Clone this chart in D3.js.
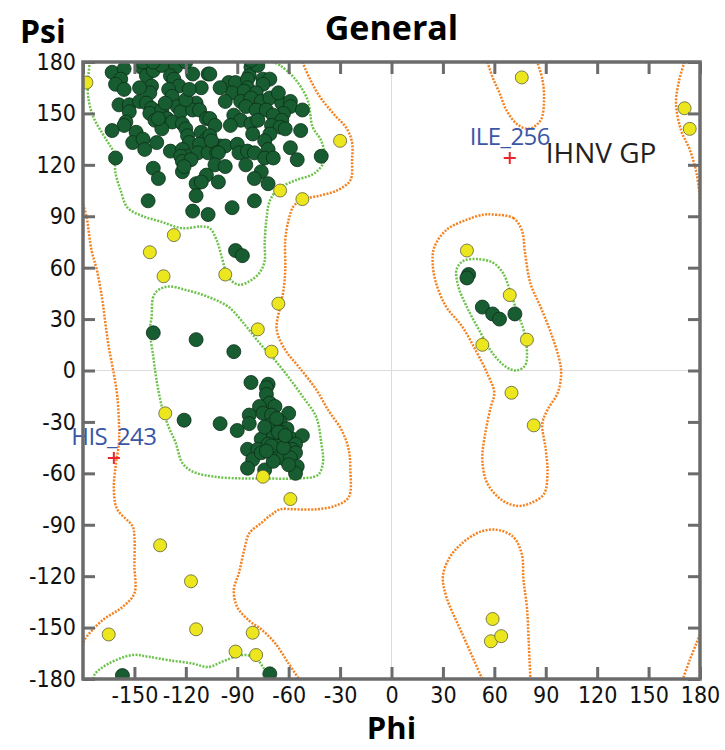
<!DOCTYPE html>
<html>
<head>
<meta charset="utf-8">
<script src="https://cdn.jsdelivr.net/npm/d3@7"></script>
<style>
  body { margin: 0; background: #fff; }
  svg text { font-family: "Liberation Sans Narrow", "DejaVu Sans Condensed", "Liberation Sans", sans-serif; }
</style>
</head>
<body>
<div id="chart"></div>
<script>
// residues in favoured regions (phi, psi)
const favoured = [
  [-163,174],[-156,176],[-158,170],[-161,167],[-156,164],[-146,177],[-143,172],[-139,175],[-134,178],[-126,177],
  [-129,172],[-127,170],[-124,166],[-116,173],[-111,165],[-107,173],[-140,166],[-141,162],[-130,164],[-128,160],
  [-159,155],[-153,155],[-153,151],[-147,157],[-143,156],[-140,153],[-141,150],[-134,152],[-125,154],[-123,151],
  [-131,147],[-128,145],[-114,156],[-116,152],[-112,152],[-108,147],[-138,146],[-155,145],[-156,143],[-163,140],
  [-149,139],[-151,133],[-145,135],[-144,129],[-137,133],[-134,141],[-122,144],[-120,141],[-119,137],[-118,133],
  [-111,139],[-108,135],[-112,132],[-129,128],[-122,129],[-161,124],[-119,125],[-113,127],[-107,127],
  [-106,173],[-95,168],[-91,168],[-93,162],[-82,177],[-83,172],[-84,170],[-75,170],[-71,170],[-75,167],
  [-84,165],[-86,163],[-79,162],[-88,157],[-82,159],[-76,157],[-71,159],[-85,154],[-79,152],[-73,152],
  [-64,156],[-59,157],[-59,154],[-63,150],[-52,152],[-92,149],[-88,146],[-94,143],[-106,147],[-103,143],
  [-82,144],[-78,146],[-69,149],[-64,146],[-70,143],[-65,142],[-62,141],[-71,138],[-81,138],[-53,140],
  [-74,134],[-106,137],[-100,131],[-97,131],[-105,134],[-90,132],[-89,127],[-84,128],[-80,127],[-72,129],
  [-74,124],[-69,124],[-59,130],[-55,123],[-41,125],[-102,127],
  [-123,125],[-122,122],[-117,123],[-122,116],[-121,119],[-101,127],[-103,120],[-97,119],[-85,120],
  [-76,116],[-80,112],[-72,109],[-139,118],[-136,112],[-108,114],[-114,109],[-111,110],[-101,110],
  [-114,102],[-142,99],[-80,99],[-93,95],[-116,93],[-107,91],[-91,70],[-87,67],
  [-136,147],[-132,156],[-120,158],[-118,164],[-147,165],[-100,165],[-97,157],[-78,178],[-66,162],
  [-145,180],[-139,180],[-120,180],[-82,181],
  [-139,22],[-114,18],[-92,11],[-121,-29],
  [-82,-7],[-72,-8],[-73,-10],[-73,-14],[-71,-19],[-77,-21],[-68,-21],[-60,-25],[-83,-26],[-75,-25],
  [-70,-26],[-83,-31],[-100,-31],[-90,-35],[-71,-32],[-65,-30],[-61,-34],[-64,-36],[-72,-38],[-76,-40],
  [-69,-39],[-58,-40],[-52,-38],[-65,-41],[-61,-42],[-72,-43],[-67,-44],[-56,-43],[-84,-46],[-78,-46],
  [-68,-49],[-62,-47],[-58,-46],[-56,-48],[-64,-51],[-59,-51],[-81,-52],[-84,-57],[-74,-58],[-55,-56],
  [-56,-60],[-66,-36],[-70,-44],[-63,-45],[-74,-33],[-67,-28],[-62,-38],[-76,-48],[-69,-53],[-60,-55],[-73,-47],
  [-157,-178],[-71,-177],
  [45,56],[44,54],[53,37],[59,33],[63,30],[72,33]
];

// residues in allowed regions
const allowed = [
  [-178,168],[-30,134],[-65,105],[-52,100],[-127,79],[-141,69],[-133,55],[-97,56],[-66,39],[-78,24],
  [-70,11],[-132,-25],[-75,-62],[-59,-75],[-135,-102],[-117,-123],[-165,-154],[-114,-151],[-81,-153],
  [-91,-164],[-79,-166],
  [76,171],[44,70],[69,44],[53,15],[79,18],[70,-13],[83,-32],[171,153],[174,141],[59,-145],[58,-158],[64,-155]
];

// outliers
const outlierNames = ["HIS_243", "ILE_256"];
const outlierPhi = [-162, 69];
const outlierPsi = [-51, 124];

// favoured contours
const favBetaTop = [[-176,180],[-177,170],[-177,160],[-174,148],[-166,134],[-162,127],[-161,115],[-158,105],
  [-154,95],[-145,90],[-135,87],[-122,83],[-111,84],[-106,83],[-102,76],[-99,66],[-97,59],[-94,53],[-89,50],
  [-83,52],[-77,57],[-74,64],[-74,74],[-73,88],[-71,99],[-66,106],[-56,111],[-45,115],[-39,123],[-41,134],
  [-46,142],[-49,158],[-57,171],[-65,178],[-69,180]];
const favBetaBottom = [[-174,-180],[-173,-177],[-165,-171],[-151,-166],[-142,-167],[-130,-169],[-116,-171],
  [-107,-173],[-99,-170],[-91,-167],[-85,-166],[-79,-168],[-75,-173],[-71,-180]];
const favAlpha = [[-136,47],[-139,43],[-140,31],[-141,24],[-139,8],[-137,-6],[-134,-21],[-130,-33],[-126,-42],
  [-122,-54],[-116,-59],[-103,-62],[-87,-63],[-72,-63],[-54,-63],[-43,-61],[-40,-54],[-41,-42],[-44,-27],
  [-52,-15],[-60,-4],[-68,6],[-77,16],[-85,26],[-95,37],[-107,43],[-120,47],[-130,49]];
const favLeftHanded = [[50,65],[59,63],[65,57],[69,47],[73,35],[77,24],[79,12],[78,3],[73,0],[67,2],[59,10],
  [52,22],[44,37],[39,49],[38,59],[42,64]];

// allowed contours
const allowLeftEdge = [[-180,97],[-178,90],[-175,70],[-172,59],[-169,43],[-167,28],[-165,14],[-162,-2],
  [-160,-15],[-159,-31],[-159,-42],[-161,-56],[-162,-70],[-160,-81],[-151,-91],[-150,-97],[-150,-114],
  [-150,-130],[-157,-138],[-169,-146],[-179,-157],[-180,-160]];
const allowMain = [[-52,180],[-48,171],[-42,160],[-34,150],[-26,141],[-23,133],[-23,123],[-24,111],[-32,105],
  [-42,102],[-51,100],[-57,96],[-60,88],[-62,76],[-62,59],[-63,47],[-65,37],[-67,24],[-62,12],[-54,2],
  [-44,-11],[-37,-23],[-29,-35],[-25,-46],[-24,-58],[-25,-74],[-33,-79],[-44,-81],[-56,-81],[-65,-81],
  [-70,-84],[-76,-89],[-83,-95],[-86,-105],[-89,-118],[-92,-128],[-90,-138],[-83,-146],[-76,-151],
  [-68,-159],[-60,-171],[-54,-180]];
const allowRightTop = [[171,180],[168,170],[166,156],[169,140],[174,129],[178,115],[180,100]];
const allowRightBottom = [[180,-154],[178,-159],[174,-169],[170,-180]];
const allowLTop = [[56,180],[59,171],[63,162],[67,152],[73,144],[80,141],[87,146],[89,158],[88,170],[85,180]];
const allowLBottom = [[53,-180],[41,-153],[32,-132],[30,-120],[34,-109],[41,-101],[52,-94],[62,-93],[71,-97],
  [76,-107],[77,-122],[79,-138],[80,-157],[81,-180]];
const allowLMid = [[59,91],[71,89],[76,82],[78,68],[81,51],[87,37],[93,22],[98,6],[99,-2],[97,-13],[91,-23],
  [88,-31],[90,-46],[91,-60],[89,-72],[82,-77],[74,-79],[65,-76],[56,-66],[53,-52],[55,-35],[58,-21],
  [60,-13],[56,-2],[49,12],[41,26],[32,37],[26,51],[24,63],[25,72],[32,82],[44,88],[54,91]];

const ticks = d3.range(-180, 181, 30);
const xLabels = d3.range(-150, 181, 30);

const width = 725, height = 750;
const margin = { top: 62, left: 83, right: 25, bottom: 71 };
const iwidth = width - margin.left - margin.right;
const iheight = height - margin.top - margin.bottom;

const svg = d3.select("#chart").append("svg")
  .attr("width", width)
  .attr("height", height);

const x = d3.scaleLinear().domain([-180, 180]).range([0, iwidth]);
const y = d3.scaleLinear().domain([-180, 180]).range([iheight, 0]);

svg.append("defs").append("clipPath").attr("id", "plotclip")
  .append("rect").attr("width", iwidth).attr("height", iheight);

const g = svg.append("g").attr("transform", `translate(${margin.left},${margin.top})`);
const plot = g.append("g").attr("clip-path", "url(#plotclip)");

// zero lines
plot.append("line").attr("x1", x(0)).attr("x2", x(0)).attr("y1", 0).attr("y2", iheight)
  .attr("stroke", "#dcdcdc").attr("stroke-width", 1);
plot.append("line").attr("x1", 0).attr("x2", iwidth).attr("y1", y(0)).attr("y2", y(0))
  .attr("stroke", "#dcdcdc").attr("stroke-width", 1);

const openLine = d3.line().x(d => x(d[0])).y(d => y(d[1])).curve(d3.curveCatmullRom.alpha(0.5));
const closedLine = d3.line().x(d => x(d[0])).y(d => y(d[1])).curve(d3.curveCatmullRomClosed.alpha(0.5));

const contours = [
  { pts: favBetaTop, closed: false, color: "#6cc24a" },
  { pts: favBetaBottom, closed: false, color: "#6cc24a" },
  { pts: favAlpha, closed: true, color: "#6cc24a" },
  { pts: favLeftHanded, closed: true, color: "#6cc24a" },
  { pts: allowLeftEdge, closed: false, color: "#f58220" },
  { pts: allowMain, closed: false, color: "#f58220" },
  { pts: allowRightTop, closed: false, color: "#f58220" },
  { pts: allowRightBottom, closed: false, color: "#f58220" },
  { pts: allowLTop, closed: false, color: "#f58220" },
  { pts: allowLBottom, closed: false, color: "#f58220" },
  { pts: allowLMid, closed: true, color: "#f58220" }
];

plot.selectAll("path.contour").data(contours).enter().append("path")
  .attr("class", "contour")
  .attr("d", d => d.closed ? closedLine(d.pts) : openLine(d.pts))
  .attr("fill", "none")
  .attr("stroke", d => d.color)
  .attr("stroke-width", 2.5)
  .attr("stroke-dasharray", "2,1.4");

plot.selectAll("circle.fav").data(favoured).enter().append("circle")
  .attr("class", "fav")
  .attr("cx", d => x(d[0]))
  .attr("cy", d => y(d[1]))
  .attr("r", 7)
  .attr("fill", "#185c32")
  .attr("stroke", "#0b2e17")
  .attr("stroke-width", 0.8);

plot.selectAll("circle.allow").data(allowed).enter().append("circle")
  .attr("class", "allow")
  .attr("cx", d => x(d[0]))
  .attr("cy", d => y(d[1]))
  .attr("r", 6.5)
  .attr("fill", "#ece61e")
  .attr("stroke", "#5e5e3a")
  .attr("stroke-width", 0.8);

// outliers: red crosses + labels
outlierNames.forEach((name, i) => {
  const cx = x(outlierPhi[i]), cy = y(outlierPsi[i]);
  plot.append("path")
    .attr("d", `M${cx - 6},${cy}H${cx + 6}M${cx},${cy - 6}V${cy + 6}`)
    .attr("stroke", "#e8262b").attr("stroke-width", 2);
  g.append("text")
    .attr("x", cx)
    .attr("y", cy - 13)
    .attr("text-anchor", "middle")
    .attr("fill", "#3a56a6")
    .style("font-size", "24px")
    .style("font-family", "'Open Sans', 'DejaVu Sans', sans-serif")
    .style("letter-spacing", "-0.6px")
    .text(name);
});

g.append("text")
  .attr("x", x(90))
  .attr("y", y(121))
  .attr("fill", "#222")
  .style("font-size", "28px")
  .style("font-family", "'Open Sans', 'DejaVu Sans', sans-serif")
  .text("IHNV GP");

// axes with inward ticks
const fmt = d => String(d);
const axB = g.append("g").attr("transform", `translate(0,${iheight})`)
  .call(d3.axisBottom(x).tickValues(xLabels).tickSize(-12).tickPadding(8).tickFormat(fmt));
const axL = g.append("g")
  .call(d3.axisLeft(y).tickValues(ticks).tickSize(-12).tickPadding(7).tickFormat(fmt));
const axT = g.append("g")
  .call(d3.axisTop(x).tickValues(ticks).tickSize(-12).tickFormat(""));
const axR = g.append("g").attr("transform", `translate(${iwidth},0)`)
  .call(d3.axisRight(y).tickValues(ticks).tickSize(-12).tickFormat(""));

[axB, axL, axT, axR].forEach(a => {
  a.select(".domain").remove();
  a.selectAll(".tick line").attr("stroke", "#6b6b6b").attr("stroke-width", 3);
  a.selectAll(".tick text").attr("fill", "#111").style("font-size", "23px")
    .style("font-family", "'Liberation Sans Narrow', 'DejaVu Sans Condensed', sans-serif");
});

g.append("rect")
  .attr("width", iwidth).attr("height", iheight)
  .attr("fill", "none").attr("stroke", "#6b6b6b").attr("stroke-width", 3.5);

svg.append("text")
  .attr("x", margin.left + iwidth / 2).attr("y", 40)
  .attr("text-anchor", "middle")
  .style("font-size", "34px").style("font-weight", "bold")
  .style("font-family", "'Open Sans', 'DejaVu Sans', sans-serif")
  .text("General");

svg.append("text")
  .attr("x", 20).attr("y", 43)
  .style("font-size", "32px").style("font-weight", "bold")
  .style("font-family", "'Open Sans', 'DejaVu Sans', sans-serif")
  .text("Psi");

svg.append("text")
  .attr("x", margin.left + iwidth / 2).attr("y", 739)
  .attr("text-anchor", "middle")
  .style("font-size", "31px").style("font-weight", "bold")
  .style("font-family", "'Open Sans', 'DejaVu Sans', sans-serif")
  .text("Phi");
</script>
</body>
</html>
